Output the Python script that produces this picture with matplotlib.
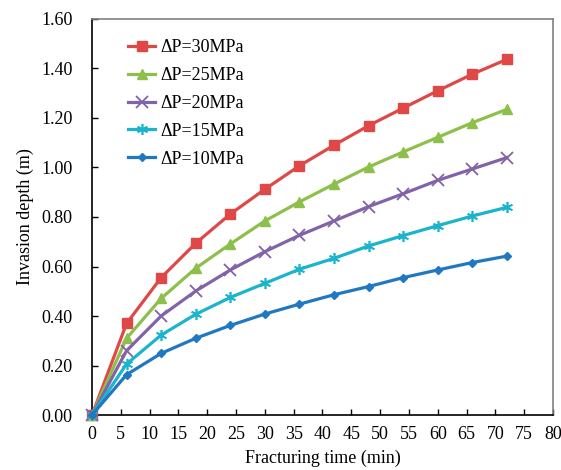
import matplotlib
matplotlib.use("Agg")
import matplotlib.pyplot as plt

time_min = [0, 6, 12, 18, 24, 30, 36, 42, 48, 54, 60, 66, 72]
dp30 = [0.00, 0.370, 0.555, 0.694, 0.812, 0.912, 1.007, 1.090, 1.169, 1.240, 1.310, 1.377, 1.437]
dp25 = [0.00, 0.310, 0.471, 0.593, 0.691, 0.784, 0.861, 0.933, 1.002, 1.063, 1.122, 1.181, 1.235]
dp20 = [0.00, 0.260, 0.400, 0.501, 0.586, 0.660, 0.726, 0.784, 0.842, 0.894, 0.948, 0.994, 1.040]
dp15 = [0.00, 0.206, 0.323, 0.407, 0.475, 0.532, 0.589, 0.633, 0.683, 0.725, 0.765, 0.804, 0.839]
dp10 = [0.00, 0.163, 0.249, 0.310, 0.362, 0.408, 0.448, 0.486, 0.519, 0.555, 0.586, 0.616, 0.642]
labels = ["ΔP=30MPa", "ΔP=25MPa", "ΔP=20MPa", "ΔP=15MPa", "ΔP=10MPa"]
x_ticks = list(range(0, 81, 5))
y_ticks = [0.0, 0.2, 0.4, 0.6, 0.8, 1.0, 1.2, 1.4, 1.6]

plt.rcParams['font.family'] = ['Liberation Serif', 'DejaVu Serif']

FS = 13

fig = plt.figure(figsize=(5.61, 4.70), dpi=100)
ax = fig.add_axes([0.164, 0.117, 0.8217, 0.8426])

series = [dp30, dp25, dp20, dp15, dp10]
colors = ['#E04848', '#8DC04A', '#8363A8', '#1AB4CC', '#1F78C1']
markers = ['s', '^', 'x', (6, 2, 0), 'D']
msizes = [7, 7, 8, 8, 4]
mew = [1, 1, 1.3, 1.2, 1]

for y, lab, c, m, ms, mw in zip(series, labels, colors, markers, msizes, mew):
    ax.plot(time_min, y, color=c, lw=2.3, marker=m, ms=ms, mew=mw,
            mec=c, mfc=c, label=lab, clip_on=False, zorder=3)

ax.set_xlim(0, 80)
ax.set_ylim(0, 1.6)
ax.set_xticks(x_ticks)
ax.set_yticks(y_ticks)
ax.set_yticklabels([f"{v:.2f}" for v in y_ticks])
ax.tick_params(direction='in', length=4, width=1, labelsize=FS,
               top=False, right=False)
ax.tick_params(axis='y', pad=14)
ax.tick_params(axis='x', pad=8)
for s in ['left', 'bottom']:
    ax.spines[s].set_color('black')
    ax.spines[s].set_linewidth(1.2)
for s in ['top', 'right']:
    ax.spines[s].set_color('#808080')
    ax.spines[s].set_linewidth(1.2)

ax.set_xlabel("Fracturing time (min)", fontsize=FS, labelpad=5)
ax.set_ylabel("Invasion depth (m)", fontsize=FS, labelpad=5)

leg = ax.legend(loc='upper left', bbox_to_anchor=(0.0625, 0.967), frameon=False,
                fontsize=FS, handlelength=1.5, handletextpad=0.3,
                labelspacing=0.6, numpoints=1, borderaxespad=0)

fig.savefig("out.png", dpi=100)
